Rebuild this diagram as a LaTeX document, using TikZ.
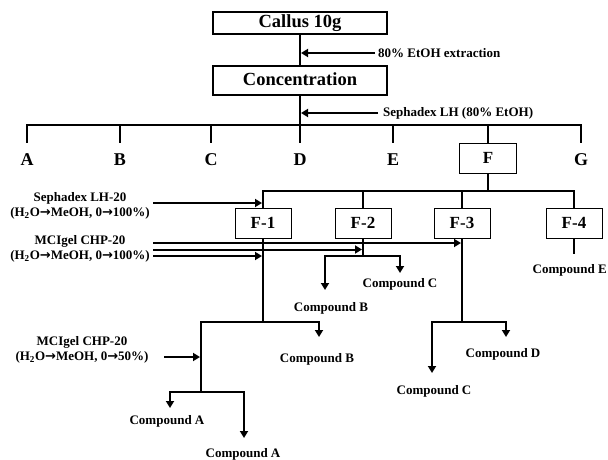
\documentclass[tikz,border=0pt]{standalone}
\usepackage{fontspec}
\setmainfont{Liberation Serif}
\newfontfamily\arrfont{DejaVu Sans}
\usetikzlibrary{arrows.meta}
\newcommand{\myarr}{{\arrfont\bfseries →}}
\begin{document}
\begin{tikzpicture}[x=1pt,y=-1pt,
  ln/.style={line width=2pt},
  arr/.style={line width=2pt,-{Triangle[length=7pt,width=8pt]}},
  bigbox/.style={draw,line width=1.6pt,minimum width=174pt,inner sep=0pt,text height=13pt,text depth=4pt,font=\bfseries\fontsize{18.5}{18.5}\selectfont},
  fnode/.style={draw,line width=0.8pt,minimum width=56pt,minimum height=30pt,inner sep=0pt,font=\bfseries\fontsize{17}{17}\selectfont},
  letter/.style={inner sep=0pt,font=\bfseries\fontsize{18}{18}\selectfont},
  small/.style={inner sep=0pt,font=\bfseries\fontsize{13}{13}\selectfont},
  cmp/.style={inner sep=0pt,anchor=base,font=\bfseries\fontsize{13}{13}\selectfont},
  lab/.style={align=center,inner sep=0pt,font=\bfseries\fontsize{13}{15}\selectfont}]
\useasboundingbox (0,0) rectangle (608,460);
\fill[white] (0,0) rectangle (608,460);
% top
\node[bigbox,minimum height=22pt] (callus) at (300,23) {Callus 10g};
\node[bigbox,minimum height=29pt] (conc) at (300,80.5) {Concentration};
\draw[ln] (callus) -- (conc);
\node[small,anchor=west] (ext) at (378,53) {80\% EtOH extraction};
\draw[arr,shorten <=3pt,shorten >=1pt] (ext.west) -- (callus.south |- ext.west);
\coordinate (bar) at (300,125);
\draw[ln] (conc) -- (bar);
\node[small,anchor=west] (seph) at (383,113) {Sephadex LH (80\% EtOH)};
\draw[arr,shorten <=5pt,shorten >=1pt] (seph.west) -- (conc.south |- seph.west);
% fractions A-G
\node[letter] (A) at (27,160) {A};
\node[letter] (B) at (120,160) {B};
\node[letter] (C) at (211,160) {C};
\node[letter] (D) at (300,160) {D};
\node[letter] (E) at (393,160) {E};
\node[fnode,minimum width=57pt] (F) at (488,158) {F};
\node[letter] (G) at (581,160) {G};
\draw[ln] ([yshift=11pt]A.north) -- ++(0,-18) -| ([yshift=11pt]G.north);
\foreach \n in {B,C,D,E} {\draw[ln] (\n.north |- bar) -- ([yshift=11pt]\n.north);}
\draw[ln] (F.north |- bar) -- (F.north);
% F sub-fractions
\node[fnode] (F1) at (263,223) {F-1};
\node[fnode] (F2) at (363,223) {F-2};
\node[fnode] (F3) at (462,223) {F-3};
\node[fnode] (F4) at (574,223) {F-4};
\draw[ln] (F.south) -- ++(0,18);
\draw[ln] (F1.north) -- ++(0,-17) -| (F4.north);
\draw[ln] (F2.north) -- ++(0,-17);
\draw[ln] (F3.north) -- ++(0,-17);
% left labels
\node[lab] (l1) at (80,205.5) {Sephadex LH-20\\(H\textsubscript{2}O\myarr MeOH, 0\myarr 100\%)};
\node[lab] (l2) at (80,249) {MCIgel CHP-20\\(H\textsubscript{2}O\myarr MeOH, 0\myarr 100\%)};
\node[lab] (l3) at (82,349.5) {MCIgel CHP-20\\(H\textsubscript{2}O\myarr MeOH, 0\myarr 50\%)};
\coordinate (s1) at (153,203);
\coordinate (s2) at (153,243);
\coordinate (s3) at (153,249.5);
\coordinate (s4) at (153,256);
\coordinate (s5) at (164,357);
\draw[arr,shorten >=1pt] (s1) -- (F1.north |- s1);
\draw[arr,shorten >=1pt] (s2) -- (F3.south |- s2);
\draw[arr,shorten >=1pt] (s3) -- (F2.south |- s3);
\draw[arr,shorten >=1pt] (s4) -- (F1.south |- s4);
% compounds
\node[cmp] (cC1) at (400,287) {Compound C};
\node[cmp] (cB1) at (331,311) {Compound B};
\node[cmp] (cB2) at (317,362) {Compound B};
\node[cmp] (cA1) at (167,424) {Compound A};
\node[cmp] (cA2) at (243,457) {Compound A};
\node[cmp] (cD) at (503,357) {Compound D};
\node[cmp] (cC2) at (434,394) {Compound C};
\node[cmp,anchor=base east] (cE) at (607,273) {Compound E};
% F-2 branch
\coordinate (j2) at (363,256);
\coordinate (t2a) at (325,290);
\coordinate (t2b) at (400,273);
\draw[ln] (F2.south) -- (j2);
\draw[arr] (j2) -| (t2a);
\draw[arr] (j2) -| (t2b);
% F-3 branch
\coordinate (j3) at (462,322);
\coordinate (t3a) at (432,373);
\coordinate (t3b) at (506,337);
\draw[ln] (F3.south) -- (j3);
\draw[arr] (j3) -| (t3a);
\draw[arr] (j3) -| (t3b);
% F-4
\draw[ln] (F4.south) -- ++(0,16);
% F-1 branch
\coordinate (j1) at (263,322);
\coordinate (j4) at (201,392);
\coordinate (t1a) at (319,337);
\coordinate (t4a) at (170,408);
\coordinate (t4b) at (244,438);
\draw[ln] (F1.south) -- (j1);
\draw[arr] (j1) -| (t1a);
\draw[ln] (j1) -| (j4);
\draw[arr,shorten >=1pt] (s5) -- (j4 |- s5);
\draw[arr] (j4) -| (t4a);
\draw[arr] (j4) -| (t4b);
\end{tikzpicture}
\end{document}
